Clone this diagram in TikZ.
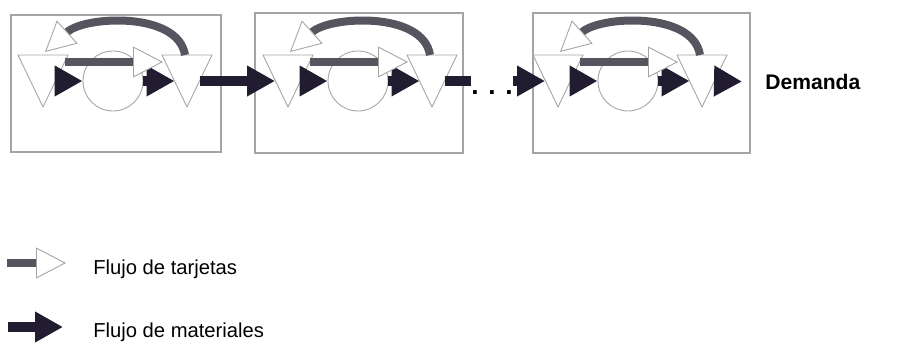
\documentclass[tikz,border=0pt]{standalone}
\usepackage{fontspec}
\setmainfont{Liberation Sans}
\usetikzlibrary{arrows.meta,positioning,calc}
\definecolor{matblack}{HTML}{221C30}
\definecolor{cardgray}{HTML}{56545F}
\definecolor{rulegray}{HTML}{A4A4A4}

\begin{document}
\begin{tikzpicture}[x=0.02cm,y=-0.02cm,
  stagebox/.style={draw=rulegray,line width=0.6pt},
  stock/.style={draw=rulegray,fill=white,line width=0.5pt},
  process/.style={circle,draw=rulegray,line width=0.5pt,minimum size=1.2cm,inner sep=0pt},
  matflow/.style={draw=matblack,line width=0.2cm,-{Triangle[length=0.56cm,width=0.58cm]}},
  matbar/.style={draw=matblack,line width=0.2cm},
  cardflow/.style={draw=cardgray,line width=0.16cm,-{Triangle[length=0.6cm,width=0.62cm,fill=white,color=rulegray,line width=0.5pt]}},
  legendtext/.style={font=\fontsize{11.5}{14}\selectfont,anchor=base west,inner sep=0pt}]
  \useasboundingbox (0,0) rectangle (900,344);

  % one stage per box
  \foreach \s/\dx/\bl/\br/\bt/\bb in {1/0/11/221/15/152, 2/245/255/463/13/153, 3/515/533/750/13/153}{
    \draw[stagebox] (\bl,\bt) rectangle (\br,\bb);
    \coordinate (lt\s-w) at (30+\dx,81);
    \coordinate (lt\s-e) at (56+\dx,81);
    \coordinate (lt\s-k) at (45+\dx,52);
    \coordinate (rt\s-w) at (174.5+\dx,81);
    \coordinate (rt\s-e) at (199.5+\dx,81);
    \coordinate (rt\s-n) at (185+\dx,55);
    \node[process] (p\s) at (113+\dx,81) {};
    \draw[stock] (18+\dx,55) -- (68+\dx,55) -- (43+\dx,107) -- cycle;
    \draw[stock] (162+\dx,55) -- (212+\dx,55) -- (187+\dx,107) -- cycle;
    \draw[matflow] (lt\s-e) -- (p\s.west);
    \draw[matflow] (p\s.east) -- (rt\s-w);
    % kanban loop
    \coordinate (ka\s) at (65+\dx,62);
    \coordinate (kb\s) at (163+\dx,62);
    \draw[cardflow] (ka\s) -- (kb\s);
    \draw[cardflow] (rt\s-n) .. controls +(-7,-44) and +(40,-36) .. (lt\s-k);
  }

  \draw[matflow] (rt1-e) -- (lt2-w);
  \node[font=\bfseries\fontsize{15}{17}\selectfont,anchor=base,inner sep=0pt] (dots) at (492,95) {. . .};
  \draw[matbar] (rt2-e) -- (rt2-e -| dots.west);
  \draw[matflow] (lt3-w -| dots.east) -- (lt3-w);
  \node[font=\bfseries\fontsize{12}{15}\selectfont,anchor=west,inner sep=0pt] (dem) at (765,82) {Demanda};
  \draw[matflow,shorten >=0.46cm] (rt3-e) -- (dem.west);

  % legend
  \node[legendtext] (lgct) at (93,275) {Flujo de tarjetas};
  \node[legendtext] (lgmt) at (93,338) {Flujo de materiales};
  \coordinate (lgc) at (7,263);
  \coordinate (lgm) at (8,327);
  \draw[cardflow,shorten >=0.54cm] (lgc) -- (lgc -| lgct.west);
  \draw[matflow,shorten >=0.6cm] (lgm) -- (lgm -| lgmt.west);
\end{tikzpicture}
\end{document}
